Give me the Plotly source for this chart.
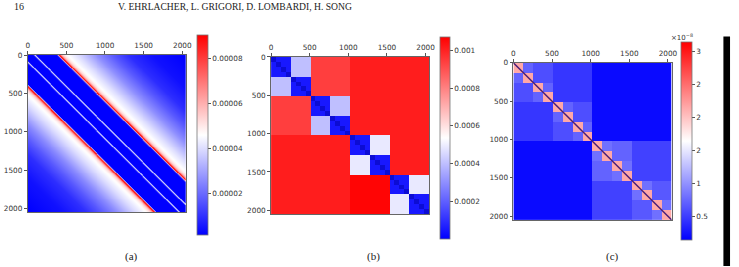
import numpy as np
import plotly.graph_objects as go

W, H = 739, 267
SIZE = 2048
N = 160   # grid cells per side for the block panels (12.8 indices per cell)
NA = 320  # finer grid for the banded panel (a)

# ---------------- data ----------------
tick_vals = [0, 500, 1000, 1500, 2000]
tick_text = ["0", "500", "1000", "1500", "2000"]

# (a) Toeplitz profile: value as a function of |i-j|
a_offsets = [0, 74, 84, 90, 96, 106, 378, 392, 404, 416, 430, 458, 500, 560,
             650, 760, 900, 1100, 1300, 1600, 2048]
a_values = [0.15e-5, 0.15e-5, 3.6e-5, 4.8e-5, 3.6e-5, 0.15e-5, 0.15e-5, 4.0e-5,
            9.0e-5, 8.6e-5, 6.6e-5, 5.3e-5, 4.7e-5, 4.4e-5, 4.0e-5, 3.4e-5,
            2.6e-5, 1.7e-5, 0.95e-5, 0.45e-5, 0.15e-5]
a_range = [1.5e-6, 9.04e-5]
a_cb_vals = [2e-5, 4e-5, 6e-5, 8e-5]
a_cb_text = ["0.00002", "0.00004", "0.00006", "0.00008"]

# (b) hierarchical blocks
b_diag256 = 0.00005
b_off256 = [0.00040, 0.00040, 0.00049, 0.00049]       # per 512-block
b_off512_upper = [0.00094, 0.00101]                   # per 1024-block (upper-right part)
b_off512_lower = [0.00094, 0.00106]                   # per 1024-block (lower-left part)
b_off1024 = 0.00101
b_range = [5e-7, 1.07e-3]
b_cb_vals = [0.0002, 0.0004, 0.0006, 0.0008, 0.001]
b_cb_text = ["0.0002", "0.0004", "0.0006", "0.0008", "0.001"]

# (c) hierarchical blocks (x1e-8)
c_diag128 = 2.15e-8
c_off128 = [0.72e-8, 0.72e-8, 0.72e-8, 0.72e-8, 0.80e-8, 0.80e-8, 0.80e-8, 0.80e-8]
c_off256 = [0.60e-8, 0.60e-8, 0.72e-8, 0.66e-8]
c_off512 = [0.46e-8, 0.52e-8]
c_off1024 = 0.2e-8
c_diag_line = [0, 2048]
c_range = [0.14e-8, 3.14e-8]
c_cb_vals = [0.5e-8, 1e-8, 1.5e-8, 2e-8, 2.5e-8, 3e-8]
c_cb_text = ["0.5", "1", "2", "2", "2", "3"]

# ---------------- build matrices ----------------
ua = (np.arange(NA) + 0.5) * SIZE / NA
IA, JA = np.meshgrid(ua, ua, indexing="ij")
za = np.interp(np.abs(IA - JA), a_offsets, a_values)

u = (np.arange(N) + 0.5) * SIZE / N
I, J = np.meshgrid(u, u, indexing="ij")   # I = row (y), J = column (x)


def same(b):
    return (I // b) == (J // b)


zb = np.full((N, N), b_off1024)
k1024 = (I // 1024).astype(int)
rows_first = (I % 1024) < 512
m512 = same(1024) & ~same(512)
zb = np.where(m512 & rows_first, np.array(b_off512_upper)[k1024], zb)
zb = np.where(m512 & ~rows_first, np.array(b_off512_lower)[k1024], zb)
k512 = (I // 512).astype(int)
zb = np.where(same(512) & ~same(256), np.array(b_off256)[k512], zb)
zb = np.where(same(256), b_diag256, zb)
zb_dark = np.where(same(64), 1.0, np.nan)

zc = np.full((N, N), c_off1024)
zc = np.where(same(1024) & ~same(512), np.array(c_off512)[(I // 1024).astype(int)], zc)
zc = np.where(same(512) & ~same(256), np.array(c_off256)[(I // 512).astype(int)], zc)
zc = np.where(same(256) & ~same(128), np.array(c_off128)[(I // 256).astype(int)], zc)
zc = np.where(same(128), c_diag128, zc)

# ---------------- figure ----------------
bwr = [[0, "rgb(0,0,255)"], [0.5, "rgb(255,255,255)"], [1, "rgb(255,0,0)"]]
FONT = "DejaVu Sans"
TFS = 7.3


def px(x):
    return x / W


def py(y):
    return 1 - y / H


panels = [
    dict(x=(26, 186), y=(52, 212), cbx=196.7, cbt=32, cbl=200, cbw=10.6, smooth="best", g=ua),
    dict(x=(272, 432), y=(54, 214), cbx=442.3, cbt=33.7, cbl=201.6, cbw=10.4, smooth=False, g=u),
    dict(x=(517, 677), y=(60, 220), cbx=686.7, cbt=39, cbl=198.3, cbw=10.6, smooth=False, g=u),
]
mats = [za, zb, zc]
ranges = [a_range, b_range, c_range]
cbv = [a_cb_vals, b_cb_vals, c_cb_vals]
cbt = [a_cb_text, b_cb_text, c_cb_text]

fig = go.Figure()
layout_axes = {}
for k, (p, z, r, tv, tt) in enumerate(zip(panels, mats, ranges, cbv, cbt)):
    sfx = "" if k == 0 else str(k + 1)
    fig.add_trace(go.Heatmap(
        z=z, x=p["g"], y=p["g"], xaxis="x" + sfx, yaxis="y" + sfx,
        colorscale=bwr, zmin=r[0], zmax=r[1], hoverinfo="skip",
        zsmooth=p["smooth"],
        colorbar=dict(
            x=px(p["cbx"]), xanchor="left", xpad=0,
            y=py(p["cbt"]), yanchor="top", ypad=0,
            len=p["cbl"], lenmode="pixels",
            thickness=p["cbw"], thicknessmode="pixels",
            tickvals=tv, ticktext=tt, ticks="outside", ticklen=3,
            tickcolor="#555", tickwidth=0.8,
            tickfont=dict(family=FONT, size=TFS, color="#333"),
            outlinewidth=0.8, outlinecolor="#777",
        ),
    ))
    if k == 1:
        fig.add_trace(go.Heatmap(
            z=zb_dark, x=u, y=u, xaxis="x2", yaxis="y2",
            colorscale=[[0, "#0c0cd4"], [1, "#0c0cd4"]], showscale=False,
            hoverinfo="skip",
        ))
    if k == 2:
        fig.add_trace(go.Scatter(
            x=c_diag_line, y=c_diag_line, xaxis="x3", yaxis="y3", mode="lines",
            line=dict(color="#4a1f78", width=1.5), showlegend=False, hoverinfo="skip",
        ))
    axcommon = dict(showgrid=False, zeroline=False, showline=True, mirror=True,
                    linecolor="#666", linewidth=0.8, ticks="outside", ticklen=3,
                    tickcolor="#555", tickwidth=0.8, tickvals=tick_vals,
                    ticktext=tick_text,
                    tickfont=dict(family=FONT, size=TFS, color="#333"))
    layout_axes["xaxis" + sfx] = dict(
        axcommon, domain=[px(p["x"][0]), px(p["x"][1])], range=[0, SIZE],
        side="top", anchor="y" + sfx)
    layout_axes["yaxis" + sfx] = dict(
        axcommon, domain=[py(p["y"][1]), py(p["y"][0])], range=[SIZE, 0],
        anchor="x" + sfx)

SERIF = "Liberation Serif"
annotations = [
    dict(text="16", x=px(10), y=py(3), xanchor="left", yanchor="middle",
         font=dict(family=SERIF, size=10, color="#222")),
    dict(text="V. EHRLACHER, L. GRIGORI, D. LOMBARDI, H. SONG", x=px(115), y=py(3),
         xanchor="left", yanchor="middle", font=dict(family=SERIF, size=9.6, color="#222")),
    dict(text="(a)", x=px(131), y=py(257), xanchor="center", yanchor="middle",
         font=dict(family=SERIF, size=11, color="#222")),
    dict(text="(b)", x=px(376), y=py(257), xanchor="center", yanchor="middle",
         font=dict(family=SERIF, size=11, color="#222")),
    dict(text="(c)", x=px(617), y=py(257), xanchor="center", yanchor="middle",
         font=dict(family=SERIF, size=11, color="#222")),
    dict(text="×10<sup>−8</sup>", x=px(687), y=py(34), xanchor="center", yanchor="middle",
         font=dict(family=FONT, size=7, color="#333")),
]
for a in annotations:
    a.update(xref="paper", yref="paper", showarrow=False)

fig.update_layout(
    width=W, height=H, margin=dict(l=0, r=0, t=0, b=0),
    paper_bgcolor="white", plot_bgcolor="white", showlegend=False,
    annotations=annotations,
    shapes=[dict(type="rect", xref="paper", yref="paper",
                 x0=px(729.3), x1=px(736), y0=0, y1=py(33),
                 fillcolor="black", line=dict(width=0))],
    **layout_axes,
)

fig.write_html("out.html")
